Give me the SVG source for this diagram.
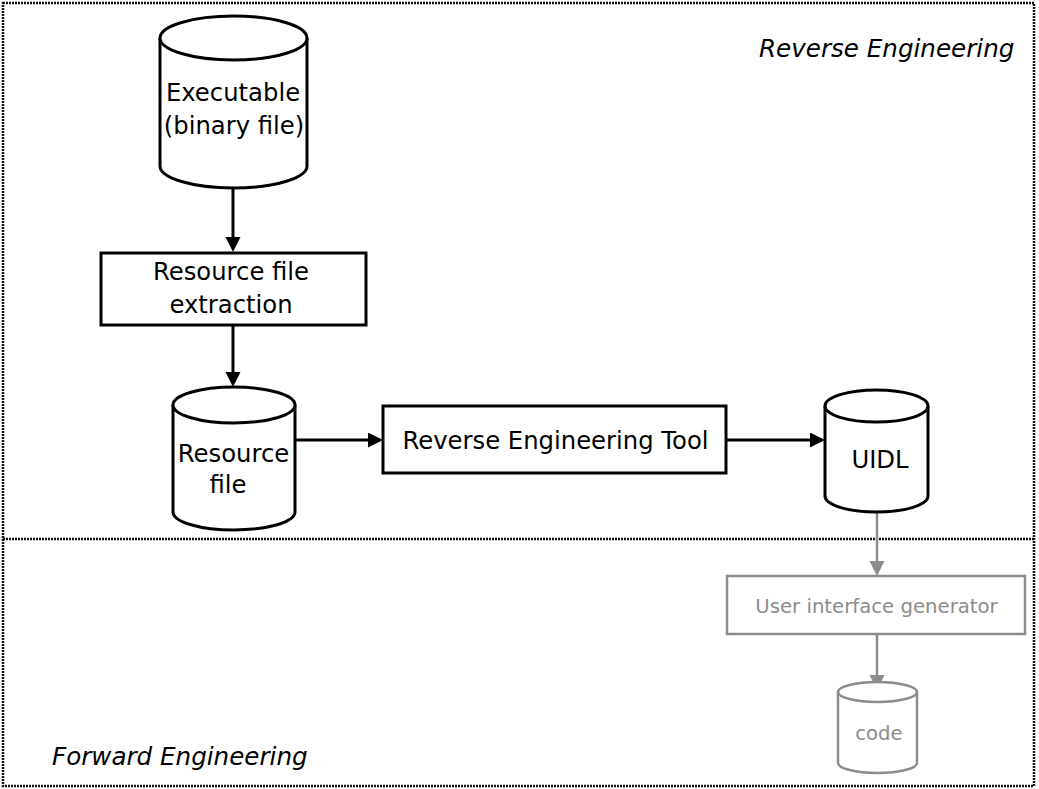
<svg xmlns="http://www.w3.org/2000/svg" width="1039" height="789" viewBox="0 0 1039 789">
  <style>
    .zone { fill: none; stroke: #111; stroke-width: 2.5; stroke-dasharray: 2 1; }
    .node { fill: #fff; stroke: #000; stroke-width: 3; }
    .node-grey { fill: #fff; stroke: #8c8c8c; stroke-width: 2.5; }
    .lbl { font-family: "DejaVu Sans", "Liberation Sans", sans-serif; font-size: 24.3px; fill: #000; text-anchor: middle; }
    .lbl-grey { font-family: "DejaVu Sans", "Liberation Sans", sans-serif; font-size: 19.7px; fill: #8c8c8c; text-anchor: middle; }
    .zone-lbl { font-family: "DejaVu Sans", "Liberation Sans", sans-serif; font-size: 24.6px; font-style: italic; fill: #000; }
    .edge { fill: none; stroke: #000; stroke-width: 3; }
    .edge-grey { fill: none; stroke: #8c8c8c; stroke-width: 2.5; }
  </style>
  <defs>
    <marker id="arrow" markerUnits="userSpaceOnUse" markerWidth="17" markerHeight="17" refX="4" refY="7.5" orient="auto">
      <path d="M0,0 L15,7.5 L0,15 z" fill="#000"/>
    </marker>
    <marker id="arrow-grey" markerUnits="userSpaceOnUse" markerWidth="17" markerHeight="17" refX="4" refY="7.5" orient="auto">
      <path d="M0,0 L15,7.5 L0,15 z" fill="#8c8c8c"/>
    </marker>
  </defs>

  <rect width="1039" height="789" fill="#fff"/>

  <!-- engineering zones -->
  <g id="zones">
    <rect class="zone" x="3" y="3" width="1031" height="783"/>
    <line class="zone" x1="3" y1="539" x2="1034" y2="539"/>
    <text class="zone-lbl" x="759" y="57">Reverse Engineering</text>
    <text class="zone-lbl" x="52" y="765">Forward Engineering</text>
  </g>

  <!-- connectors -->
  <g id="connectors">
    <line class="edge" x1="233" y1="188" x2="233" y2="241" marker-end="url(#arrow)"/>
    <line class="edge" x1="233" y1="325" x2="233" y2="376" marker-end="url(#arrow)"/>
    <line class="edge" x1="295" y1="440" x2="372" y2="440" marker-end="url(#arrow)"/>
    <line class="edge" x1="726" y1="440" x2="814" y2="440" marker-end="url(#arrow)"/>
    <line class="edge-grey" x1="877" y1="512" x2="877" y2="565" marker-end="url(#arrow-grey)"/>
    <line class="edge-grey" x1="877" y1="634" x2="877" y2="679" marker-end="url(#arrow-grey)"/>
  </g>

  <!-- executable (database cylinder) -->
  <g id="executable">
    <path class="node" d="M160,38 A73.5,22 0 0 1 307,38 L307,166 A73.5,22 0 0 1 160,166 Z"/>
    <path class="node" d="M160,38 A73.5,22 0 0 0 307,38"/>
    <text class="lbl" x="233" y="101">Executable</text>
    <text class="lbl" x="234" y="134">(binary file)</text>
  </g>

  <g id="extraction">
    <rect class="node" x="101" y="253" width="265" height="72"/>
    <text class="lbl" x="231" y="280">Resource file</text>
    <text class="lbl" x="231" y="313">extraction</text>
  </g>

  <g id="resource-file">
    <path class="node" d="M173,405 A61,18 0 0 1 295,405 L295,512 A61,18 0 0 1 173,512 Z"/>
    <path class="node" d="M173,405 A61,18 0 0 0 295,405"/>
    <text class="lbl" x="233.5" y="462">Resource</text>
    <text class="lbl" x="228" y="493">file</text>
  </g>

  <g id="re-tool">
    <rect class="node" x="383" y="406" width="343" height="67"/>
    <text class="lbl" x="555.5" y="449">Reverse Engineering Tool</text>
  </g>

  <g id="uidl">
    <path class="node" d="M825,406 A51.5,16 0 0 1 928,406 L928,496 A51.5,16 0 0 1 825,496 Z"/>
    <path class="node" d="M825,406 A51.5,16 0 0 0 928,406"/>
    <text class="lbl" x="880" y="468">UIDL</text>
  </g>

  <g id="ui-generator">
    <rect class="node-grey" x="727" y="576" width="298" height="58"/>
    <text class="lbl-grey" x="876.5" y="613">User interface generator</text>
  </g>

  <g id="code">
    <path class="node-grey" d="M838,692 A39.5,10 0 0 1 917,692 L917,763 A39.5,10 0 0 1 838,763 Z"/>
    <path class="node-grey" d="M838,692 A39.5,10 0 0 0 917,692"/>
    <text class="lbl-grey" x="879" y="740">code</text>
  </g>
</svg>
